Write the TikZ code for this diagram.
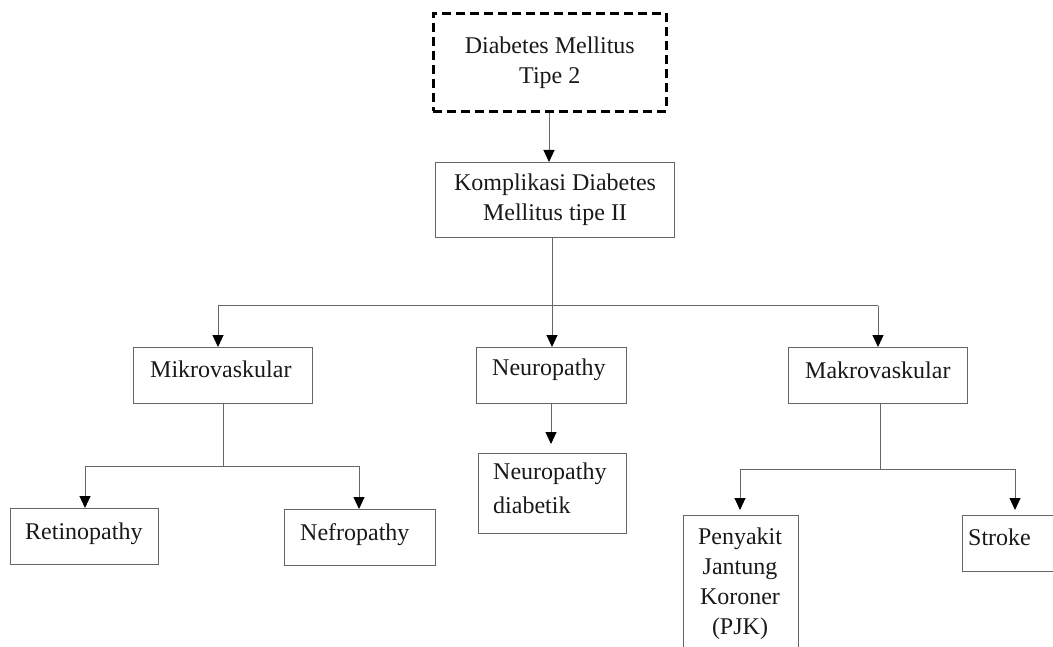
\documentclass[tikz,border=0pt]{standalone}
\usepackage{fontspec}
\setmainfont{Liberation Serif}
\usetikzlibrary{arrows.meta}
\begin{document}
\begin{tikzpicture}[x=1pt,y=-1pt,
  box/.style={draw=black!60, line width=1pt, rectangle, inner sep=0pt, anchor=north west},
  dbox/.style={draw=black, line width=2.6pt, dash pattern=on 9pt off 5pt, rectangle, inner sep=0pt, anchor=north west},
  lbl/.style={anchor=base west, inner sep=0pt},
  con/.style={draw=black!60, line width=1pt},
  arr/.style={con, -{Triangle[width=11pt,length=12pt,fill=black,color=black]}},
  every node/.style={font=\fontsize{24}{30}\selectfont, text=black!90}
]
\useasboundingbox (0,0) rectangle (1053,647);
\clip (0,0) rectangle (1053,647);
% boxes
\node[dbox, minimum width=233pt, minimum height=98pt, align=center] (dm) at (432,12) {Diabetes Mellitus\\Tipe 2};
\node[box, minimum width=239pt, minimum height=75pt, align=center] (komp) at (435,162) {Komplikasi Diabetes\\Mellitus tipe II};
\node[box, minimum width=179pt, minimum height=56pt] (mik) at (133,347) {};
\node[box, minimum width=150pt, minimum height=56pt] (neu) at (476,347) {};
\node[box, minimum width=179pt, minimum height=56pt] (mak) at (788,347) {};
\node[box, minimum width=148pt, minimum height=56pt] (ret) at (10,508) {};
\node[box, minimum width=151pt, minimum height=56pt] (nef) at (284,509) {};
\node[box, minimum width=148pt, minimum height=80pt] (nd) at (478,453) {};
\node[box, minimum width=115pt, minimum height=170pt] (pjk) at (683,515) {};
\node[box, minimum width=120pt, minimum height=56pt] (str) at (962,515) {};
% labels
\node[lbl] (tmik) at (150,377) {Mikrovaskular};
\node[lbl] (tneu) at (492,375) {Neuropathy};
\node[lbl] (tmak) at (805,378) {Makrovaskular};
\node[lbl] (tret) at (25,539) {Retinopathy};
\node[lbl] (tnef) at (300,540) {Nefropathy};
\node[anchor=north west, inner sep=0pt, align=left] (tnd) at (493,463) {Neuropathy\\[4pt]diabetik};
\node[anchor=north, inner sep=0pt, align=center] (tpjk) at (740,528) {Penyakit\\Jantung\\Koroner\\(PJK)};
\node[lbl] (tstr) at (968,545) {Stroke};
% junctions
\coordinate (j1) at (552,306);
\coordinate (cL) at (218,306);
\coordinate (cR) at (878,306);
\coordinate (j2) at (223,466);
\coordinate (dL) at (85,466);
\coordinate (dR) at (359,466);
\coordinate (j3) at (880,469);
\coordinate (eL) at (740,469);
\coordinate (eR) at (1015,469);
% connectors
\draw[arr] (dm.south -| 549,0) -- (komp.north -| 549,0);
\draw[con] (komp.south -| j1) -- (j1);
\draw[con] (cL) -- (cR);
\draw[arr] (cL) -- (cL |- mik.north);
\draw[arr] (j1) -- (j1 |- neu.north);
\draw[arr] (cR) -- (cR |- mak.north);
\draw[con] (mik.south -| j2) -- (j2);
\draw[con] (dL) -- (dR);
\draw[arr] (dL) -- (dL |- ret.north);
\draw[arr] (dR) -- (dR |- nef.north);
\draw[arr, shorten >=9pt] (neu.south -| 551,0) -- (nd.north -| 551,0);
\draw[con] (mak.south -| j3) -- (j3);
\draw[con] (eL) -- (eR);
\draw[arr, shorten >=5pt] (eL) -- (eL |- pjk.north);
\draw[arr, shorten >=5pt] (eR) -- (eR |- str.north);
\end{tikzpicture}
\end{document}
